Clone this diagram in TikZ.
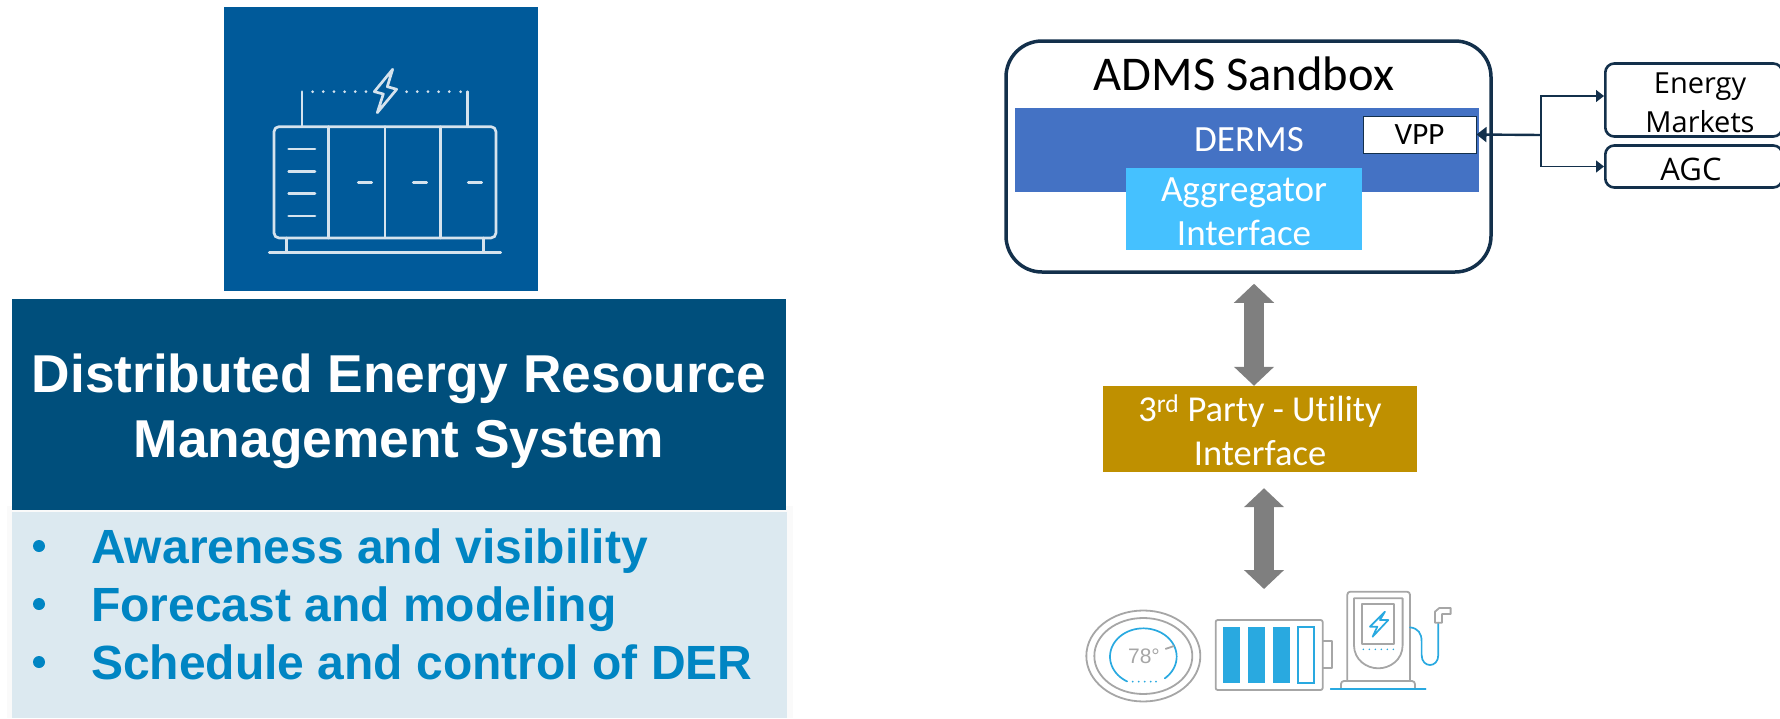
\documentclass[tikz,border=0pt]{standalone}
\usepackage{fontspec}
\setmainfont{Liberation Sans}
\newfontfamily\calibrifont[Ligatures=NoCommon]{Carlito}
\newfontfamily\opensansfont{Open Sans}
\usepackage{tikz}
\usetikzlibrary{arrows.meta,calc}
\definecolor{iconblue}{HTML}{005A9A}
\definecolor{headblue}{HTML}{004F7C}
\definecolor{paneblue}{HTML}{DCE9F0}
\definecolor{bulletblue}{HTML}{0085C3}
\definecolor{navy}{HTML}{13304B}
\definecolor{dermsblue}{HTML}{4472C4}
\definecolor{aggblue}{HTML}{45C1FF}
\definecolor{gold}{HTML}{BF9000}
\definecolor{arrowgray}{HTML}{7F7F7F}
\definecolor{devgray}{HTML}{A6A6A6}
\definecolor{devblue}{HTML}{29A9E0}
\definecolor{iconline}{HTML}{D5E3EE}
\tikzstyle{panel}=[rectangle,inner sep=0pt]
\tikzstyle{bullettext}=[anchor=base west,inner sep=0pt,text=bulletblue,font=\fontsize{48}{48}\selectfont\bfseries]
\tikzstyle{whitetext}=[inner sep=0pt,text=white,align=center,font=\calibrifont\fontsize{37}{44}\selectfont]
\tikzstyle{marketbox}=[rectangle,rounded corners=9pt,draw=navy,line width=2.6pt,fill=white,inner sep=0pt,anchor=west]
\tikzstyle{marketlabel}=[inner sep=0pt,align=center,text=black,font=\opensansfont\fontsize{29}{39}\selectfont]
\tikzstyle{link} = [draw=navy,line width=1.2pt,-{Triangle[length=8pt,width=12pt]}]
\tikzstyle{blockarrow} = [draw=arrowgray,line width=20pt,{Triangle[length=19pt,width=39pt]}-{Triangle[length=19pt,width=39pt]}]
\tikzstyle{iconstroke} = [draw=iconline,line width=2.7pt,line cap=round,line join=round]
\tikzstyle{devstroke} = [draw=devgray,line width=1.8pt,line join=round]
\tikzstyle{devcurve} = [draw=devblue,line width=1.7pt,line cap=round]
\begin{document}
\begin{tikzpicture}[x=1pt,y=-1pt]
    \useasboundingbox (0,0) rectangle (1780,718);

    % left column
    \node[panel,fill=iconblue,minimum width=314pt,minimum height=284pt] (icon) at (381,149) {};
    \node[panel,fill=black!2,minimum width=786pt,minimum height=212pt] (paneshadow) at (399.5,612) {};
    \node[panel,fill=paneblue,minimum width=775pt,minimum height=206pt] (pane) at (399.5,615) {};
    \node[panel,fill=headblue,minimum width=774pt,minimum height=211pt] (head) at (399,404.5) {};
    \node[inner sep=0pt,text=white,align=center,font=\fontsize{53.3}{65}\selectfont\bfseries] (headtext) at (399,411) {Distributed Energy Resource\\Management System};

    \foreach \ypos/ \name/ \txt in {563/aware/Awareness and visibility, 621/forecast/Forecast and modeling, 679/schedule/Schedule and control of DER} {
        \node[bullettext] (\name) at (91,\ypos) {\txt};
        \node[circle,fill=bulletblue,minimum size=12pt,inner sep=0pt] (\name dot) at (39,\ypos-17) {};
    }

    % storage cabinet, in zoomed units
    \begin{scope}[shift={(200,0)},x=0.3333pt,y=-0.3333pt]
        \draw[iconstroke,rounded corners=5pt] (222,380) rectangle (888,714);
        \foreach \xpos in {386,555,722}
            \draw[iconstroke] (\xpos,380) -- (\xpos,714);
        \foreach \ypos in {447,514,581,648}
            \draw[iconstroke] (266,\ypos) -- (345,\ypos);
        \foreach \xpos in {475,640,805}
            \draw[iconstroke] (\xpos,548) -- (\xpos+40,548);
        \draw[iconstroke] (260,714) -- (260,758);
        \draw[iconstroke] (850,714) -- (850,758);
        \draw[iconstroke] (208,758) -- (902,758);
        \draw[iconstroke] (306,275) -- (306,380);
        \draw[iconstroke] (802,275) -- (802,380);
        \foreach \xpos in {338,370,402,434,466,498,620,652,684,716,748,782}
            \fill[iconline] (\xpos,275) circle (1.5pt);
        \draw[iconstroke] (578,208) -- (523,275) -- (550,282) -- (532,338) -- (590,268) -- (562,260) -- cycle;
    \end{scope}

    % sandbox
    \node[panel,rounded corners=36pt,draw=navy,line width=3.5pt,fill=white,minimum width=485pt,minimum height=231pt] (sandbox) at (1248.5,156.5) {};
    \node[inner sep=0pt,font=\calibrifont\fontsize{48.5}{48}\selectfont] (sandboxtitle) at (1244,74) {ADMS Sandbox};
    \node[panel,fill=dermsblue,minimum width=464pt,minimum height=84pt] (derms) at (1247,150) {};
    \node[whitetext] (dermslabel) at (1249,140) {DERMS};
    \node[panel,fill=aggblue,minimum width=236pt,minimum height=82pt] (aggregator) at (1244,209) {};
    \node[whitetext] (aggregatorlabel) at (1244,212) {Aggregator\\Interface};
    \node[panel,draw=navy,line width=1pt,fill=white,minimum width=113pt,minimum height=37pt,font=\calibrifont\fontsize{31}{31}\selectfont] (vpp) at (1419.5,134.5) {VPP};

    \node[marketbox,minimum width=177pt,minimum height=73pt] (markets) at (1604,100) {};
    \node[marketlabel] (marketslabel) at (1700,102.5) {Energy\\Markets};
    \node[marketbox,minimum width=177pt,minimum height=42pt] (agc) at (1604,166.5) {};
    \node[marketlabel,font=\opensansfont\fontsize{31}{31}\selectfont] (agclabel) at (1691,169) {AGC};

    \coordinate (junction) at (1541,135);
    \draw[draw=navy,line width=2.4pt,-{Triangle[length=10pt,width=15pt]}] (junction) -- (vpp.east);
    \draw[link] (junction) |- ([yshift=4pt]markets.west);
    \draw[link] (junction) |- (agc.west);

    % utility interface
    \node[panel,fill=gold,minimum width=314pt,minimum height=86pt] (utility) at (1260,429) {};
    \node[whitetext,font=\calibrifont\fontsize{36.5}{44}\selectfont] (utilitylabel) at (1260,430) {3\textsuperscript{rd} Party - Utility\\Interface};
    \coordinate (devices) at (1264,589);

    \draw[blockarrow,shorten <=10pt] ([xshift=5.5pt]sandbox.south) -- ([xshift=-6pt]utility.north);
    \draw[blockarrow,shorten <=16pt] ([xshift=4pt]utility.south) -- (devices);

    % devices, in zoomed units
    \begin{scope}[shift={(1060,570)},x=0.3333pt,y=-0.3333pt]
        % thermostat
        \draw[devstroke] (250,258) ellipse [x radius=57pt,y radius=45.5pt];
        \draw[devstroke] (250,258) ellipse [x radius=49pt,y radius=38pt];
        \draw[devcurve] plot[domain=119:410,samples=70,smooth] ({250+100*cos(\x)},{260+85*sin(\x)});
        \draw[devstroke] (316,237) -- (342,228);
        \foreach \xpos in {218,236,254,272,288}
            \fill[devblue] (\xpos,335) circle (1pt);
        \node[inner sep=0pt,text=devgray,font=\fontsize{21}{21}\selectfont] (settemp) at (252,260) {78°};
        % battery
        \draw[devstroke,rounded corners=2pt] (467,150) rectangle (788,360);
        \draw[devstroke] (788,212) -- (815,212) -- (815,295) -- (788,295);
        \foreach \xpos in {490,565,640}
            \fill[devblue] (\xpos,172) rectangle (\xpos+50,340);
        \draw[devcurve,line cap=butt] (715,172) rectangle (762,338);
        % charger
        \draw[devstroke,rounded corners=3pt] (862,335) -- (862,65) -- (1050,65) -- (1050,335);
        \draw[devstroke] (882,85) -- (1028,85) -- (1028,225) .. controls (1028,270) and (990,295) .. (955,295) .. controls (920,295) and (882,270) .. (882,225) -- cycle;
        \draw[devstroke] (907,103) rectangle (1002,222);
        \draw[devcurve,line join=round] (975,125) -- (930,170) -- (952,170) -- (938,200) -- (985,150) -- (960,150) -- cycle;
        \foreach \xpos in {910,928,946,964,982,1000}
            \fill[devblue] (\xpos,238) circle (0.9pt);
        \draw[devstroke,rounded corners=3pt] (843,356) -- (843,333) -- (1065,333) -- (1065,356);
        \draw[devcurve] (812,356) -- (1097,356);
        \draw[devcurve] (1050,172) .. controls (1075,175) and (1085,190) .. (1085,215) -- (1085,255) .. controls (1085,295) and (1135,295) .. (1135,255) -- (1135,158);
        \draw[devstroke] (1125,158) -- (1125,125) -- (1138,114) -- (1172,114) -- (1172,132) -- (1146,132) -- (1146,158) -- cycle;
    \end{scope}
\end{tikzpicture}
\end{document}
